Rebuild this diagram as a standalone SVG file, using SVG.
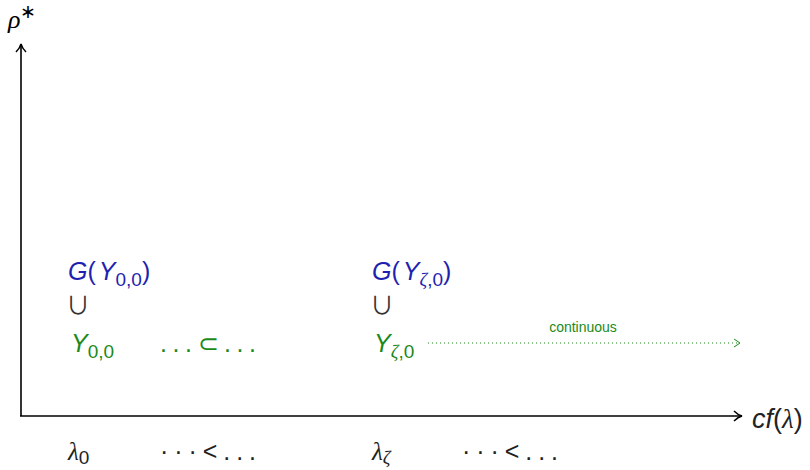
<svg xmlns="http://www.w3.org/2000/svg" width="810" height="470" viewBox="0 0 810 470">
<style>
text{font-family:"Liberation Sans",Arial,sans-serif;font-size:25px}
.m{font-family:"Liberation Serif","Times New Roman",serif}
.b{fill:#1f1fb0}
.g{fill:#1a8a1a}
.k{fill:#222}
.i{font-style:italic}
.s{font-size:19px}
.u{font-size:24px;font-family:"Noto Sans CJK SC","DejaVu Sans",sans-serif;fill:#333}
</style>
<defs>
<marker id="ah" markerWidth="10" markerHeight="12" refX="9" refY="6" orient="auto" markerUnits="userSpaceOnUse">
<path d="M1,1 Q5,5 9,6 Q5,7 1,11" fill="none" stroke="#000" stroke-width="1.5"/>
</marker>
<marker id="ahg" markerWidth="8" markerHeight="10" refX="7" refY="5" orient="auto" markerUnits="userSpaceOnUse">
<path d="M1,1 L7,5 L1,9" fill="none" stroke="#1a8a1a" stroke-width="1"/>
</marker>
</defs>
<g id="connectors">
<line x1="21" y1="416" x2="21" y2="44" stroke="#000" stroke-width="1.6" marker-end="url(#ah)"/>
<line x1="20" y1="416" x2="742" y2="416" stroke="#000" stroke-width="1.6" marker-end="url(#ah)"/>
<line x1="428" y1="343" x2="740" y2="343" stroke="#1a8a1a" stroke-width="1" stroke-dasharray="1 3" marker-end="url(#ahg)"/>
<text x="583" y="332" class="g" style="font-size:14px" text-anchor="middle">continuous</text>
</g>
<g id="axis-labels">
<text x="8" y="28" class="i m" style="font-size:26px">ρ<tspan dy="-10" class="s" font-style="normal">∗</tspan></text>
<text x="752" y="428" class="k" style="font-size:27px"><tspan class="i">cf</tspan>(<tspan class="m i">λ</tspan>)</text>
</g>
<g id="node-g0">
<text x="68" y="280" class="b"><tspan class="i">G</tspan>(<tspan class="i" dx="3">Y</tspan><tspan class="s" dy="6">0,0</tspan><tspan dy="-6">)</tspan></text>
<text x="66" y="314" class="u">∪</text>
</g>
<g id="node-y0">
<text x="71" y="352" class="g"><tspan class="i">Y</tspan><tspan class="s" dy="6">0,0</tspan></text>
<text x="160" y="352" class="g" textLength="96" lengthAdjust="spacing">. . . ⊂ . . .</text>
</g>
<g id="node-gz">
<text x="372" y="280" class="b"><tspan class="i">G</tspan>(<tspan class="i" dx="3">Y</tspan><tspan class="s m i" dy="6">ζ</tspan><tspan class="s">,0</tspan><tspan dy="-6">)</tspan></text>
<text x="370" y="314" class="u">∪</text>
</g>
<g id="node-yz">
<text x="374" y="352" class="g"><tspan class="i">Y</tspan><tspan class="s m i" dy="6">ζ</tspan><tspan class="s">,0</tspan></text>
</g>
<g id="bottom-labels">
<text x="68" y="460" class="k"><tspan class="m i">λ</tspan><tspan class="s" dy="4">0</tspan></text>
<text x="160" y="460" class="k" textLength="96" lengthAdjust="spacing">· · · &lt; . . .</text>
<text x="372" y="460" class="k"><tspan class="m i">λ</tspan><tspan class="s m i" dy="4">ζ</tspan></text>
<text x="462" y="460" class="k" textLength="96" lengthAdjust="spacing">· · · &lt; . . .</text>
</g>
</svg>
